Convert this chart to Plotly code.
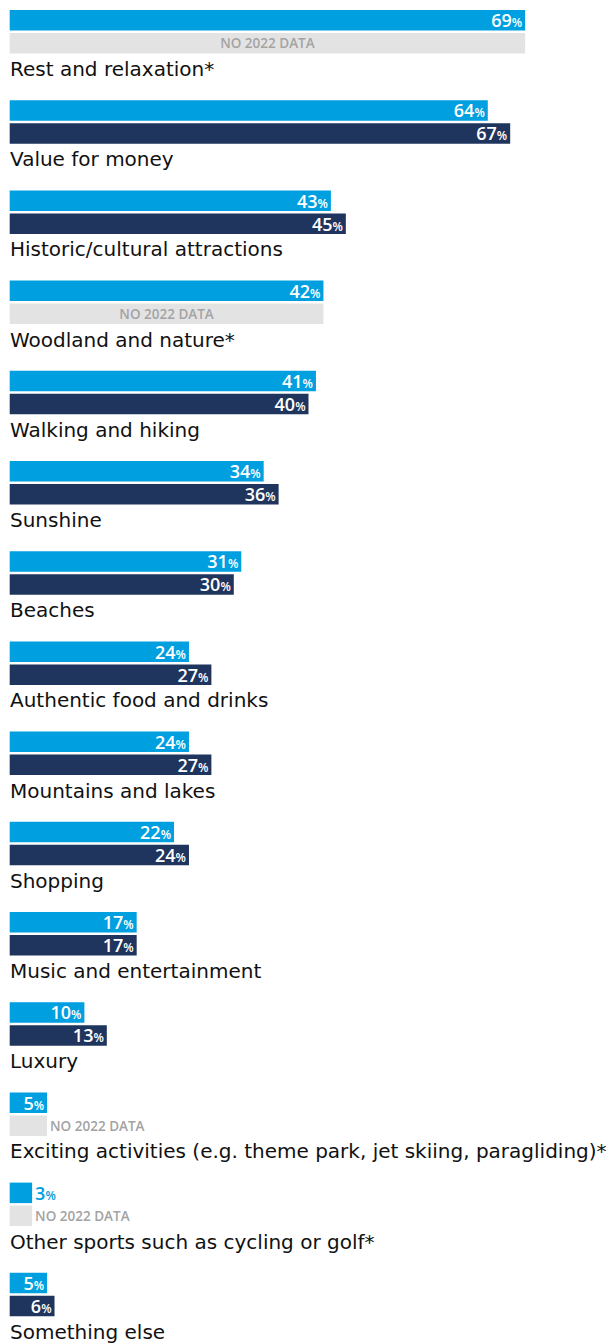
import plotly.graph_objects as go

categories = [
    "Rest and relaxation*",
    "Value for money",
    "Historic/cultural attractions",
    "Woodland and nature*",
    "Walking and hiking",
    "Sunshine",
    "Beaches",
    "Authentic food and drinks",
    "Mountains and lakes",
    "Shopping",
    "Music and entertainment",
    "Luxury",
    "Exciting activities (e.g. theme park, jet skiing, paragliding)*",
    "Other sports such as cycling or golf*",
    "Something else",
]
values_2023 = [69, 64, 43, 42, 41, 34, 31, 24, 24, 22, 17, 10, 5, 3, 5]
values_2022 = [None, 67, 45, None, 40, 36, 30, 27, 27, 24, 17, 13, None, None, 6]

BLUE = "#009FE0"
NAVY = "#1F355E"
GREY_BAR = "#E3E3E3"
GREY_TXT = "#A3A3A3"
FONT = "Open Sans"
LABEL_FONT = "DejaVu Sans"

W, H = 611, 1344
PX_PER_UNIT = 7.47
X0_PX = 9.7
x_min = -X0_PX / PX_PER_UNIT
x_max = x_min + W / PX_PER_UNIT

PITCH = 90.2
TOP0 = 10
BAR_H = 20.5
GAP = 2.5

n = len(categories)
tops = [TOP0 + i * PITCH for i in range(n)]
y_a = [t + BAR_H / 2 for t in tops]
y_b = [t + BAR_H + GAP + BAR_H / 2 for t in tops]
y_lab = [t + 59 for t in tops]


def lbl(v):
    return f"{v}<span style='font-size:12px'>%</span>"


fig = go.Figure()

# 2023 bars
fig.add_trace(go.Bar(
    x=values_2023, y=y_a, orientation="h", width=BAR_H, base=0,
    marker=dict(color=BLUE, line=dict(width=0)),
    text=[lbl(v) for v in values_2023],
    textposition=["inside" if v >= 5 else "outside" for v in values_2023],
    insidetextanchor="end", textangle=0,
    insidetextfont=dict(color="white", size=18, family=FONT, weight=600),
    outsidetextfont=dict(color=BLUE, size=18, family=FONT, weight=600),
    constraintext="none", cliponaxis=False, hoverinfo="skip",
))

# 2022 bars
fig.add_trace(go.Bar(
    x=values_2022, y=y_b, orientation="h", width=BAR_H, base=0,
    marker=dict(color=NAVY, line=dict(width=0)),
    text=[lbl(v) if v is not None else "" for v in values_2022],
    textposition="inside",
    insidetextanchor="end", textangle=0,
    insidetextfont=dict(color="white", size=18, family=FONT, weight=600),
    constraintext="none", cliponaxis=False, hoverinfo="skip",
))

# No 2022 data placeholders
nd_x = [a if b is None else None for a, b in zip(values_2023, values_2022)]
fig.add_trace(go.Bar(
    x=nd_x, y=y_b, orientation="h", width=BAR_H, base=0,
    marker=dict(color=GREY_BAR, line=dict(width=0)),
    text=["NO 2022 DATA" if b is None else "" for b in values_2022],
    textposition=["inside" if (b is None and a >= 20) else "outside" for a, b in zip(values_2023, values_2022)],
    insidetextanchor="middle", textangle=0,
    insidetextfont=dict(color=GREY_TXT, size=13.5, family=FONT, weight=600),
    outsidetextfont=dict(color=GREY_TXT, size=13.5, family=FONT, weight=600),
    constraintext="none", cliponaxis=False, hoverinfo="skip",
))

for cat, y in zip(categories, y_lab):
    fig.add_annotation(
        x=0, y=y, xref="x", yref="y", text=cat, showarrow=False,
        xanchor="left", yanchor="middle", xshift=-2,
        font=dict(family=LABEL_FONT, size=20, color="#111111"),
    )

fig.update_layout(
    width=W, height=H, margin=dict(l=0, r=0, t=0, b=0),
    paper_bgcolor="white", plot_bgcolor="white",
    showlegend=False, barmode="overlay",
    xaxis=dict(range=[x_min, x_max], visible=False, fixedrange=True),
    yaxis=dict(range=[H, 0], visible=False, fixedrange=True),
)

fig.write_html("out.html")
